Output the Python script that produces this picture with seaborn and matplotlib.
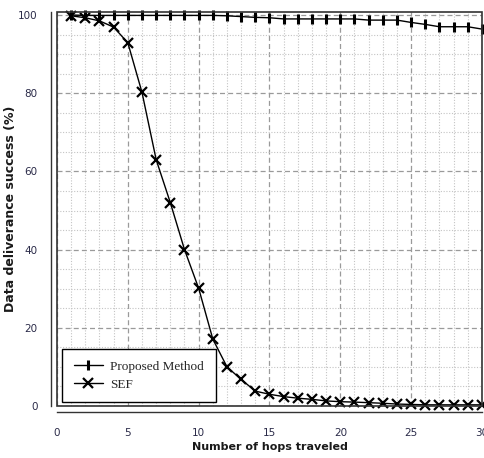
import matplotlib
matplotlib.use("Agg")
import matplotlib.pyplot as plt
import seaborn as sns
import pandas as pd
import numpy as np
from matplotlib.patches import Rectangle
from matplotlib.ticker import MultipleLocator

hops = list(range(1, 31))
proposed = [100.0, 99.9, 99.9, 99.9, 99.9, 99.9, 99.9, 99.9, 99.9, 99.9,
            99.9, 99.8, 99.6, 99.4, 99.3, 99.0, 99.0, 99.0, 99.0, 99.0,
            99.0, 98.7, 98.7, 98.7, 98.1, 97.6, 97.0, 97.0, 97.0, 96.4]
sef = [99.8, 99.3, 98.5, 96.9, 92.9, 80.2, 63.0, 52.0, 40.0, 30.1,
       17.1, 10.0, 6.8, 3.8, 3.0, 2.4, 2.0, 1.7, 1.3, 1.1,
       1.0, 0.85, 0.7, 0.5, 0.4, 0.3, 0.3, 0.3, 0.3, 0.3]
series_names = ["Proposed Method", "SEF"]
x_ticks = [0, 5, 10, 15, 20, 25, 30]
y_ticks = [0, 20, 40, 60, 80, 100]

df = pd.DataFrame({
    "hops": hops * 2,
    "value": proposed + sef,
    "series": [series_names[0]] * len(hops) + [series_names[1]] * len(hops),
})

sns.set_style("white")
fig = plt.figure(figsize=(4.85, 4.58), dpi=100)
ax = fig.add_axes([57 / 485, 1 - 406 / 458, 425 / 485, (406 - 11.5) / 458])

markers = {"Proposed Method": "|", "SEF": "x"}
msize = {"Proposed Method": 7, "SEF": 6.5}
mew = {"Proposed Method": 2.2, "SEF": 1.6}
for name in series_names:
    sub = df[df["series"] == name]
    sns.lineplot(data=sub, x="hops", y="value", ax=ax, color="black",
                 linewidth=1.0, marker=markers[name], markersize=msize[name],
                 markeredgewidth=mew[name], markeredgecolor="black",
                 label=name, zorder=5, clip_on=False)

ax.set_xlim(0, 30)
ax.set_ylim(0, 100.9)
ax.set_xticks(x_ticks)
ax.set_yticks(y_ticks)
ax.xaxis.set_minor_locator(MultipleLocator(1))
ax.yaxis.set_minor_locator(MultipleLocator(5))

ax.grid(which="major", color="#9a9a9a", linestyle=(0, (4, 2.5)), linewidth=0.9)
ax.grid(which="minor", color="#c4c4c4", linestyle=(0, (1, 1.5)), linewidth=0.8)
ax.set_axisbelow(True)

for s in ["top", "right"]:
    ax.spines[s].set_visible(False)
for s in ["left", "bottom"]:
    ax.spines[s].set_position(("outward", 4.5))
    ax.spines[s].set_color("#333333")
    ax.spines[s].set_linewidth(1.0)
ax.add_patch(Rectangle((0, 0), 1, 1, transform=ax.transAxes, fill=False,
                       edgecolor="#333333", linewidth=1.2, clip_on=False, zorder=6))

tick_color = "#2a2a48"
ax.tick_params(axis="both", which="major", direction="out", length=6.5, width=1.0,
               color="#333333", labelsize=7.5, labelcolor=tick_color)
ax.tick_params(axis="both", which="minor", direction="out", length=4.5, width=1.0,
               color="#333333")
ax.tick_params(axis="x", which="major", pad=5)
ax.tick_params(axis="y", which="major", pad=3)

ax.set_xlabel("Number of hops traveled", fontsize=8, fontweight="bold",
              color="#1a1a1a", labelpad=3)
ax.set_ylabel("Data deliverance success (%)", fontsize=9, fontweight="bold",
              color="#1a1a1a", labelpad=1)

leg = ax.legend(loc="lower left", bbox_to_anchor=(0.011, 0.009), frameon=True,
                fancybox=False, edgecolor="black", framealpha=1,
                prop={"family": "Liberation Serif", "size": 9.5},
                handlelength=2.2, borderpad=0.9, labelspacing=0.4,
                handletextpad=0.6, borderaxespad=0)
leg.get_frame().set_linewidth(1.0)
leg.set_zorder(10)

fig.savefig("out.png", dpi=100)
